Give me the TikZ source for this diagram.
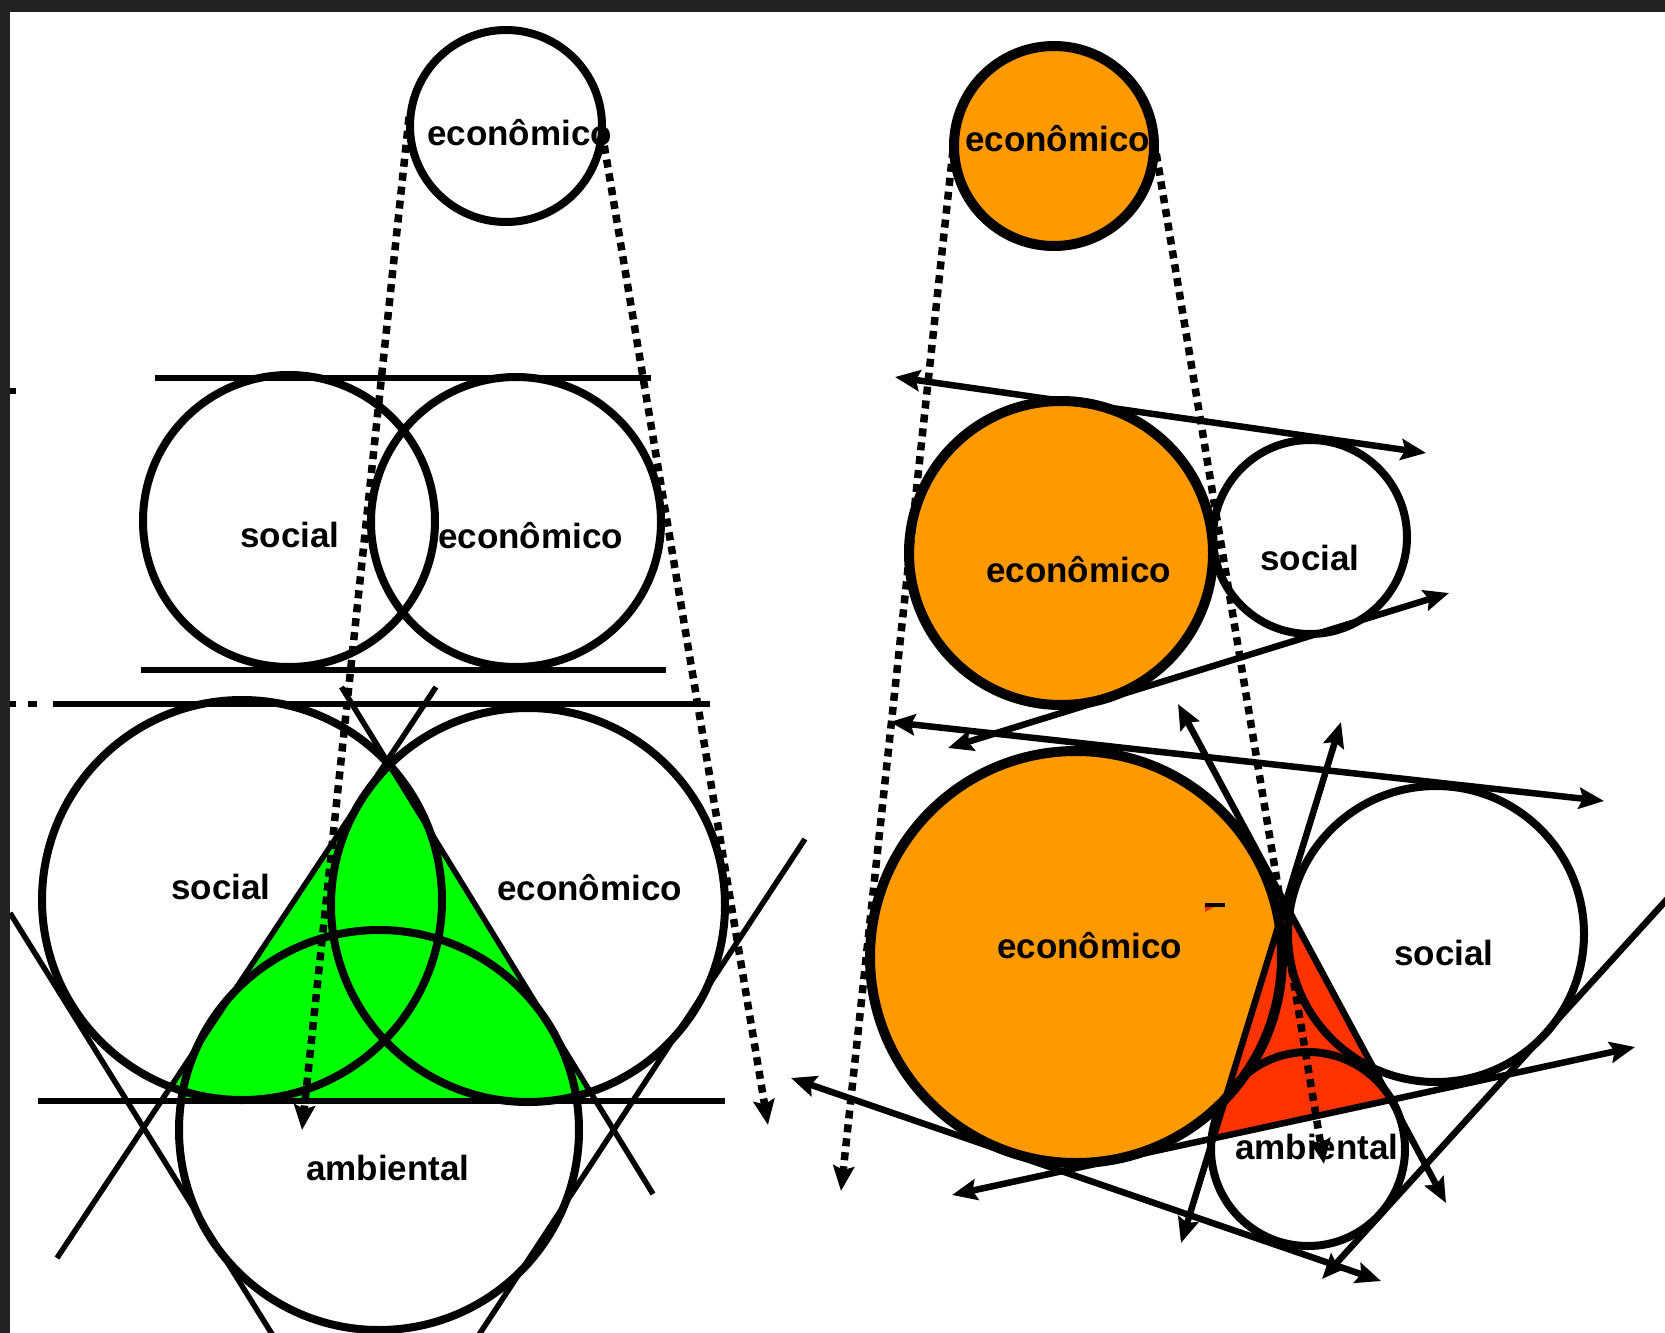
\documentclass[tikz,border=0pt]{standalone}
\usepackage{fontspec}
\setmainfont{Liberation Sans}
\usetikzlibrary{arrows.meta}
\definecolor{framegray}{HTML}{222222}
\definecolor{orangefill}{HTML}{FF9900}
\definecolor{greenfill}{HTML}{00FF00}
\definecolor{redfill}{HTML}{FF3300}
\begin{document}
\begin{tikzpicture}[x=1pt,y=-1pt,
  >={Stealth[length=25pt,width=21pt,inset=4pt]},
  ring/.style={line width=8pt},
  heavyring/.style={line width=10pt},
  tline/.style={line width=6pt},
  dline/.style={line width=5.5pt},
  arrline/.style={line width=6.5pt,<->},
  onearr/.style={line width=6.5pt,->},
  dotarrow/.style={line width=7.5pt,dash pattern=on 8pt off 6pt,->},
  lbl/.style={font=\fontsize{35}{42}\selectfont\bfseries,inner sep=0pt,anchor=base west}]
\useasboundingbox (0,0) rectangle (1665,1333);
\fill[white] (0,0) rectangle (1665,1333);
\clip (0,0) rectangle (1665,1333);

% ---------- fills ----------
\begin{scope}
  \clip (387,761) -- (161,1101) -- (596,1101) -- cycle;
  \fill[greenfill] (242,900) circle (200) (528,905) circle (197) (379,1130) circle (200);
\end{scope}
\fill[orangefill] (1054,146) circle (100);
\fill[orangefill] (1061,553) circle (152);
\fill[orangefill] (1076,957) circle (206);
\fill[redfill] (1285,904) -- (1213,1136) -- (1391,1097) -- cycle;
\fill[black] (1205,903) rectangle (1225,907);
\fill[redfill] (1205,907) -- (1214,907) -- (1205,912) -- cycle;

% ---------- circles ----------
\draw[ring] (506,126) circle (96);
\draw[heavyring] (1054,146) circle (100);
\draw[ring] (289,521) circle (146);
\draw[ring] (516,522) circle (145);
\draw[ring] (242,900) circle (200);
\draw[ring] (528,905) circle (197);
\draw[ring] (379,1130) circle (200);
\draw[heavyring] (1061,553) circle (152);
\draw[ring] (1310,537) circle (97);
\draw[heavyring] (1076,957) circle (206);
\draw[ring] (1436,934) circle (148);
\draw[ring] (1308,1149) circle (97);

% ---------- left construction lines ----------
\draw[tline] (155,378) -- (651,378);
\draw[tline] (141,670) -- (666,670);
\draw[tline] (10,391) -- (16,391);
\draw[tline] (10,704) -- (16,704);
\draw[tline] (28,704) -- (37,704);
\draw[tline] (53,704) -- (710,704);
\draw[tline] (38,1101) -- (725,1101);
\draw[dline] (341.5,687) -- (653,1194);
\draw[dline] (436,687) -- (57,1258);
\draw[dline] (10,913) -- (290,1363);
\draw[dline] (805,839) -- (465,1356);

% ---------- right arrows ----------
\draw[arrline] (895,377) -- (1426,453);
\draw[arrline] (948,748) -- (1449,593);
\draw[arrline] (890,722) -- (1604,801);
\draw[arrline] (1178,704) -- (1446,1203);
\draw[arrline] (1341,722) -- (1181,1243);
\draw[arrline] (952,1195) -- (1635,1047);
\draw[arrline] (791,1078) -- (1381,1281);
\draw[onearr] (1690,874) -- (1322,1279);

% ---------- labels ----------
\node[lbl] (lt) at (427,145) {econômico};
\node[lbl] (rt) at (965,151) {econômico};
\node[lbl] (lms) at (240,547) {social};
\node[lbl] (lme) at (438,548) {econômico};
\node[lbl] (rme) at (986,582) {econômico};
\node[lbl] (rms) at (1260,570) {social};
\node[lbl] (lbs) at (171,899) {social};
\node[lbl] (lbe) at (497,900) {econômico};
\node[lbl] (lba) at (306,1180) {ambiental};
\node[lbl] (rbe) at (997,958) {econômico};
\node[lbl] (rbs) at (1394,965) {social};
\node[lbl] (rba) at (1235,1159) {ambiental};

% ---------- dotted arrows ----------
\draw[dotarrow] (409,117) -- (302,1130);
\draw[dotarrow] (602,132) -- (768,1125);
\draw[dotarrow] (953,150) -- (841,1191);
\draw[dotarrow] (1154,140) -- (1324,1164);

% ---------- frame ----------
\fill[framegray] (0,0) rectangle (1665,12);
\fill[framegray] (0,0) rectangle (10,1333);
\end{tikzpicture}
\end{document}
